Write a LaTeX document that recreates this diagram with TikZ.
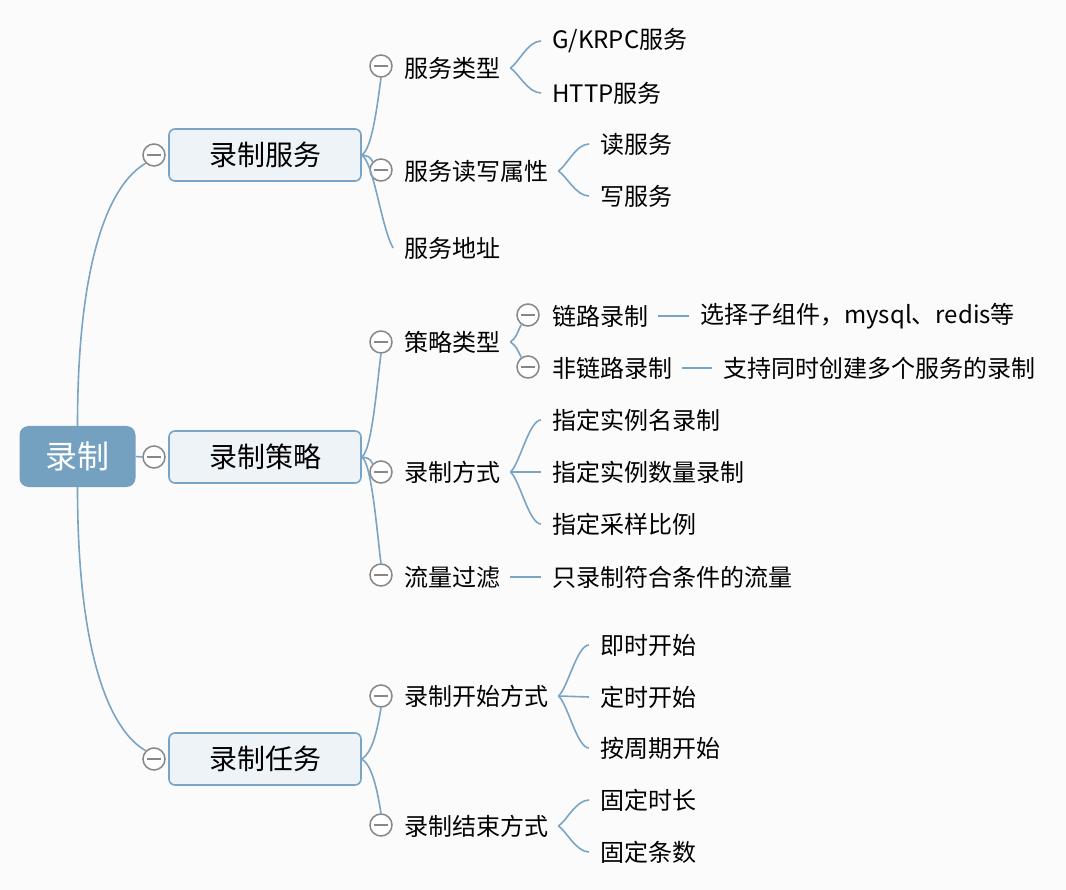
\documentclass[tikz,border=0pt]{standalone}
\usepackage{fontspec}
\setmainfont{Noto Sans CJK SC}
\definecolor{bgc}{RGB}{251,251,251}
\definecolor{rootblue}{RGB}{117,161,193}
\definecolor{boxfill}{RGB}{238,243,247}
\definecolor{boxline}{RGB}{122,164,196}
\definecolor{linkc}{RGB}{122,164,196}
\definecolor{btngray}{RGB}{135,135,135}
\begin{document}
\begin{tikzpicture}[x=1pt,y=-1pt,
  rootnode/.style={rectangle, rounded corners=9pt, fill=rootblue, text=white, minimum width=116pt, minimum height=61pt, inner sep=0pt, font=\fontsize{32}{38}\selectfont},
  topic/.style={rectangle, rounded corners=6pt, draw=boxline, line width=1.6pt, fill=boxfill, minimum width=192pt, minimum height=52pt, inner sep=0pt, font=\fontsize{28}{34}\selectfont},
  sub/.style={anchor=west, inner sep=0pt, font=\fontsize{24}{29}\selectfont},
  btn/.style={circle, draw=btngray, line width=1.5pt, fill=white, minimum size=22pt, inner sep=0pt,
    path picture={\draw[btngray, line width=1.5pt] ([xshift=-7pt]path picture bounding box.center) -- ([xshift=7pt]path picture bounding box.center);}},
  link/.style={draw=linkc, line width=1.6pt},
]
\fill[bgc] (0,0) rectangle (1066,890);
\useasboundingbox (0,0) rectangle (1066,890);

% root and topics
\node[rootnode] (r) at (77.5,456.5) {录制};
\node[topic] (s1) at (265,155) {录制服务};
\node[topic] (s2) at (265,457) {录制策略};
\node[topic] (s3) at (265,759) {录制任务};
\node[btn] (b1) at (154,155) {};
\node[btn] (b2) at (154,457) {};
\node[btn] (b3) at (154,759) {};

% branch 1
\node[btn] (b11) at (381,66) {};
\node[sub] (t11) at (404,68) {服务类型};
\node[btn] (b12) at (381,170) {};
\node[sub] (t12) at (404,171) {服务读写属性};
\node[sub] (t13) at (404,248) {服务地址};
\node[sub] (t111) at (552,41) {G/KRPC服务};
\node[sub] (t112) at (552,93) {HTTP服务};
\node[sub] (t121) at (600,144) {读服务};
\node[sub] (t122) at (600,196) {写服务};

% branch 2
\node[btn] (b21) at (381,342) {};
\node[sub] (t21) at (404,342) {策略类型};
\node[btn] (b211) at (528,315) {};
\node[sub] (t211) at (552,316) {链路录制};
\node[sub] (t2111) at (700,316) {选择子组件，mysql、redis等};
\node[btn] (b212) at (528,367) {};
\node[sub] (t212) at (552,368) {非链路录制};
\node[sub] (t2121) at (723,368) {支持同时创建多个服务的录制};
\node[btn] (b22) at (381,472) {};
\node[sub] (t22) at (404,472) {录制方式};
\node[sub] (t221) at (552,420) {指定实例名录制};
\node[sub] (t222) at (552,472) {指定实例数量录制};
\node[sub] (t223) at (552,524) {指定采样比例};
\node[btn] (b23) at (381,575) {};
\node[sub] (t23) at (404,577) {流量过滤};
\node[sub] (t231) at (552,577) {只录制符合条件的流量};

% branch 3
\node[btn] (b31) at (381,696) {};
\node[sub] (t31) at (404,696) {录制开始方式};
\node[sub] (t311) at (600,645) {即时开始};
\node[sub] (t312) at (600,697) {定时开始};
\node[sub] (t313) at (600,748) {按周期开始};
\node[btn] (b32) at (381,825) {};
\node[sub] (t32) at (404,826) {录制结束方式};
\node[sub] (t321) at (600,800) {固定时长};
\node[sub] (t322) at (600,852) {固定条数};

% root connectors
\draw[link] (r.north) .. controls +(0,-170) and +(-35,20) .. (b1.south west);
\draw[link] (r.east) -- (b2.west);
\draw[link] (r.south) .. controls +(0,170) and +(-35,-20) .. (b3.north west);

% topic connectors
\draw[link] (s1.east) .. controls +(10,-6) and +(-4,30) .. (b11.south);
\draw[link] (s1.east) .. controls +(5,1) and +(-3,-6) .. (b12.north west);
\draw[link] (s1.east) .. controls +(12,8) and +(-12,-22) .. ([xshift=-11pt]t13.west);
\draw[link] (s2.east) .. controls +(10,-6) and +(-4,30) .. (b21.south);
\draw[link] (s2.east) .. controls +(5,1) and +(-3,-6) .. (b22.north west);
\draw[link] (s2.east) .. controls +(10,6) and +(-4,-30) .. (b23.north);
\draw[link] (s3.east) .. controls +(10,-6) and +(-4,25) .. (b31.south);
\draw[link] (s3.east) .. controls +(10,6) and +(-4,-25) .. (b32.north);

% leaf connectors
\draw[link] ([xshift=10pt]t11.east) .. controls +(8,-5) and +(-13,0) .. ([xshift=-11pt]t111.west);
\draw[link] ([xshift=10pt]t11.east) .. controls +(8,5) and +(-13,0) .. ([xshift=-11pt]t112.west);
\draw[link] ([xshift=10pt]t12.east) .. controls +(8,-5) and +(-13,0) .. ([xshift=-11pt]t121.west);
\draw[link] ([xshift=10pt]t12.east) .. controls +(8,5) and +(-13,0) .. ([xshift=-11pt]t122.west);

\draw[link] ([xshift=10pt]t21.east) .. controls +(6,-4) and +(-4,8) .. (b211.-125);
\draw[link] ([xshift=10pt]t21.east) .. controls +(6,4) and +(-4,-8) .. (b212.125);
\draw[link] ([xshift=10pt]t211.east) -- ([xshift=-11pt]t2111.west);
\draw[link] ([xshift=10pt]t212.east) -- ([xshift=-11pt]t2121.west);
\draw[link] ([xshift=10pt]t22.east) .. controls +(9,-7) and +(-12,0) .. ([xshift=-11pt]t221.west);
\draw[link] ([xshift=10pt]t22.east) -- ([xshift=-11pt]t222.west);
\draw[link] ([xshift=10pt]t22.east) .. controls +(9,7) and +(-12,0) .. ([xshift=-11pt]t223.west);
\draw[link] ([xshift=10pt]t23.east) -- ([xshift=-11pt]t231.west);

\draw[link] ([xshift=10pt]t31.east) .. controls +(9,-7) and +(-12,0) .. ([xshift=-11pt]t311.west);
\draw[link] ([xshift=10pt]t31.east) -- ([xshift=-11pt]t312.west);
\draw[link] ([xshift=10pt]t31.east) .. controls +(9,7) and +(-12,0) .. ([xshift=-11pt]t313.west);
\draw[link] ([xshift=10pt]t32.east) .. controls +(8,-5) and +(-13,0) .. ([xshift=-11pt]t321.west);
\draw[link] ([xshift=10pt]t32.east) .. controls +(8,5) and +(-13,0) .. ([xshift=-11pt]t322.west);
\end{tikzpicture}
\end{document}
